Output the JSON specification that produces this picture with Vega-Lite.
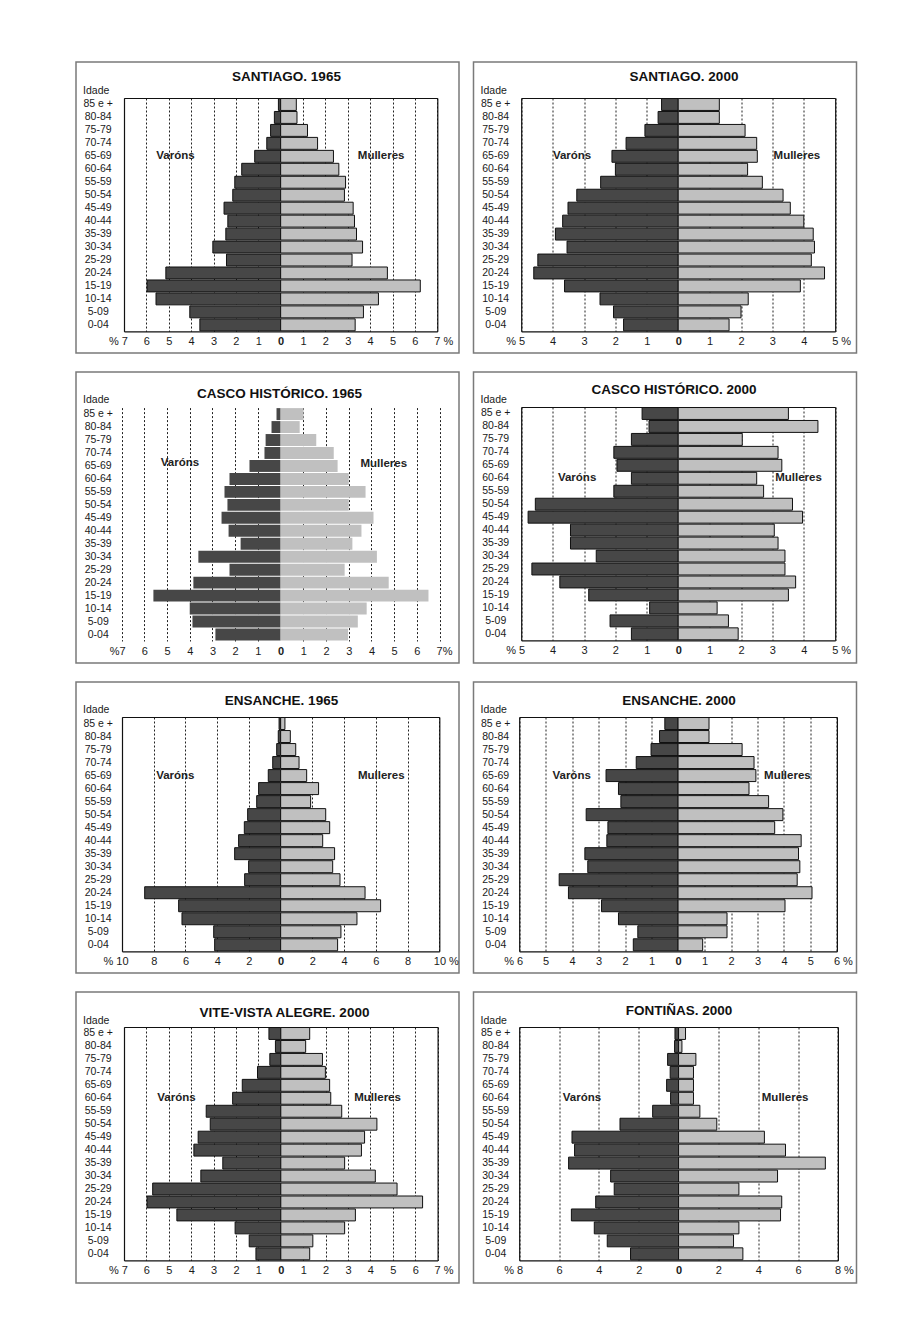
{
"$schema": "https://vega.github.io/schema/vega-lite/v6.json",
"background": "white",
"padding": {"left": 75, "top": 61, "right": 0, "bottom": 0},
"autosize": {"type": "pad"},
"datasets": {
"s65": [
{"idade":"85 e +","sexo":"Varóns","pct":-0.1},{"idade":"80-84","sexo":"Varóns","pct":-0.28},{"idade":"75-79","sexo":"Varóns","pct":-0.45},{"idade":"70-74","sexo":"Varóns","pct":-0.62},{"idade":"65-69","sexo":"Varóns","pct":-1.16},{"idade":"60-64","sexo":"Varóns","pct":-1.74},{"idade":"55-59","sexo":"Varóns","pct":-2.05},{"idade":"50-54","sexo":"Varóns","pct":-2.14},{"idade":"45-49","sexo":"Varóns","pct":-2.53},{"idade":"40-44","sexo":"Varóns","pct":-2.36},{"idade":"35-39","sexo":"Varóns","pct":-2.45},{"idade":"30-34","sexo":"Varóns","pct":-3.03},{"idade":"25-29","sexo":"Varóns","pct":-2.42},{"idade":"20-24","sexo":"Varóns","pct":-5.13},{"idade":"15-19","sexo":"Varóns","pct":-5.97},{"idade":"10-14","sexo":"Varóns","pct":-5.57},{"idade":"5-09","sexo":"Varóns","pct":-4.06},{"idade":"0-04","sexo":"Varóns","pct":-3.61},
{"idade":"85 e +","sexo":"Mulleres","pct":0.7},{"idade":"80-84","sexo":"Mulleres","pct":0.73},{"idade":"75-79","sexo":"Mulleres","pct":1.2},{"idade":"70-74","sexo":"Mulleres","pct":1.65},{"idade":"65-69","sexo":"Mulleres","pct":2.36},{"idade":"60-64","sexo":"Mulleres","pct":2.6},{"idade":"55-59","sexo":"Mulleres","pct":2.9},{"idade":"50-54","sexo":"Mulleres","pct":2.85},{"idade":"45-49","sexo":"Mulleres","pct":3.24},{"idade":"40-44","sexo":"Mulleres","pct":3.3},{"idade":"35-39","sexo":"Mulleres","pct":3.39},{"idade":"30-34","sexo":"Mulleres","pct":3.66},{"idade":"25-29","sexo":"Mulleres","pct":3.19},{"idade":"20-24","sexo":"Mulleres","pct":4.77},{"idade":"15-19","sexo":"Mulleres","pct":6.24},{"idade":"10-14","sexo":"Mulleres","pct":4.37},{"idade":"5-09","sexo":"Mulleres","pct":3.7},{"idade":"0-04","sexo":"Mulleres","pct":3.33}
],
"s00": [
{"idade":"85 e +","sexo":"Varóns","pct":-0.53},{"idade":"80-84","sexo":"Varóns","pct":-0.64},{"idade":"75-79","sexo":"Varóns","pct":-1.06},{"idade":"70-74","sexo":"Varóns","pct":-1.66},{"idade":"65-69","sexo":"Varóns","pct":-2.11},{"idade":"60-64","sexo":"Varóns","pct":-2.0},{"idade":"55-59","sexo":"Varóns","pct":-2.47},{"idade":"50-54","sexo":"Varóns","pct":-3.23},{"idade":"45-49","sexo":"Varóns","pct":-3.51},{"idade":"40-44","sexo":"Varóns","pct":-3.68},{"idade":"35-39","sexo":"Varóns","pct":-3.91},{"idade":"30-34","sexo":"Varóns","pct":-3.54},{"idade":"25-29","sexo":"Varóns","pct":-4.47},{"idade":"20-24","sexo":"Varóns","pct":-4.6},{"idade":"15-19","sexo":"Varóns","pct":-3.62},{"idade":"10-14","sexo":"Varóns","pct":-2.49},{"idade":"5-09","sexo":"Varóns","pct":-2.06},{"idade":"0-04","sexo":"Varóns","pct":-1.74},
{"idade":"85 e +","sexo":"Mulleres","pct":1.31},{"idade":"80-84","sexo":"Mulleres","pct":1.31},{"idade":"75-79","sexo":"Mulleres","pct":2.13},{"idade":"70-74","sexo":"Mulleres","pct":2.5},{"idade":"65-69","sexo":"Mulleres","pct":2.52},{"idade":"60-64","sexo":"Mulleres","pct":2.21},{"idade":"55-59","sexo":"Mulleres","pct":2.68},{"idade":"50-54","sexo":"Mulleres","pct":3.34},{"idade":"45-49","sexo":"Mulleres","pct":3.57},{"idade":"40-44","sexo":"Mulleres","pct":4.0},{"idade":"35-39","sexo":"Mulleres","pct":4.3},{"idade":"30-34","sexo":"Mulleres","pct":4.34},{"idade":"25-29","sexo":"Mulleres","pct":4.24},{"idade":"20-24","sexo":"Mulleres","pct":4.66},{"idade":"15-19","sexo":"Mulleres","pct":3.89},{"idade":"10-14","sexo":"Mulleres","pct":2.23},{"idade":"5-09","sexo":"Mulleres","pct":2.0},{"idade":"0-04","sexo":"Mulleres","pct":1.62}
],
"c65": [
{"idade":"85 e +","sexo":"Varóns","pct":-0.18},{"idade":"80-84","sexo":"Varóns","pct":-0.4},{"idade":"75-79","sexo":"Varóns","pct":-0.66},{"idade":"70-74","sexo":"Varóns","pct":-0.71},{"idade":"65-69","sexo":"Varóns","pct":-1.37},{"idade":"60-64","sexo":"Varóns","pct":-2.25},{"idade":"55-59","sexo":"Varóns","pct":-2.47},{"idade":"50-54","sexo":"Varóns","pct":-2.34},{"idade":"45-49","sexo":"Varóns","pct":-2.6},{"idade":"40-44","sexo":"Varóns","pct":-2.29},{"idade":"35-39","sexo":"Varóns","pct":-1.76},{"idade":"30-34","sexo":"Varóns","pct":-3.62},{"idade":"25-29","sexo":"Varóns","pct":-2.25},{"idade":"20-24","sexo":"Varóns","pct":-3.84},{"idade":"15-19","sexo":"Varóns","pct":-5.6},{"idade":"10-14","sexo":"Varóns","pct":-4.0},{"idade":"5-09","sexo":"Varóns","pct":-3.88},{"idade":"0-04","sexo":"Varóns","pct":-2.87},
{"idade":"85 e +","sexo":"Mulleres","pct":1.01},{"idade":"80-84","sexo":"Mulleres","pct":0.84},{"idade":"75-79","sexo":"Mulleres","pct":1.57},{"idade":"70-74","sexo":"Mulleres","pct":2.34},{"idade":"65-69","sexo":"Mulleres","pct":2.51},{"idade":"60-64","sexo":"Mulleres","pct":3.0},{"idade":"55-59","sexo":"Mulleres","pct":3.74},{"idade":"50-54","sexo":"Mulleres","pct":3.0},{"idade":"45-49","sexo":"Mulleres","pct":4.09},{"idade":"40-44","sexo":"Mulleres","pct":3.56},{"idade":"35-39","sexo":"Mulleres","pct":3.16},{"idade":"30-34","sexo":"Mulleres","pct":4.24},{"idade":"25-29","sexo":"Mulleres","pct":2.82},{"idade":"20-24","sexo":"Mulleres","pct":4.76},{"idade":"15-19","sexo":"Mulleres","pct":6.51},{"idade":"10-14","sexo":"Mulleres","pct":3.79},{"idade":"5-09","sexo":"Mulleres","pct":3.4},{"idade":"0-04","sexo":"Mulleres","pct":2.97}
],
"c00": [
{"idade":"85 e +","sexo":"Varóns","pct":-1.15},{"idade":"80-84","sexo":"Varóns","pct":-0.93},{"idade":"75-79","sexo":"Varóns","pct":-1.49},{"idade":"70-74","sexo":"Varóns","pct":-2.05},{"idade":"65-69","sexo":"Varóns","pct":-1.95},{"idade":"60-64","sexo":"Varóns","pct":-1.49},{"idade":"55-59","sexo":"Varóns","pct":-2.05},{"idade":"50-54","sexo":"Varóns","pct":-4.55},{"idade":"45-49","sexo":"Varóns","pct":-4.78},{"idade":"40-44","sexo":"Varóns","pct":-3.43},{"idade":"35-39","sexo":"Varóns","pct":-3.43},{"idade":"30-34","sexo":"Varóns","pct":-2.61},{"idade":"25-29","sexo":"Varóns","pct":-4.66},{"idade":"20-24","sexo":"Varóns","pct":-3.77},{"idade":"15-19","sexo":"Varóns","pct":-2.85},{"idade":"10-14","sexo":"Varóns","pct":-0.91},{"idade":"5-09","sexo":"Varóns","pct":-2.17},{"idade":"0-04","sexo":"Varóns","pct":-1.49},
{"idade":"85 e +","sexo":"Mulleres","pct":3.51},{"idade":"80-84","sexo":"Mulleres","pct":4.45},{"idade":"75-79","sexo":"Mulleres","pct":2.04},{"idade":"70-74","sexo":"Mulleres","pct":3.18},{"idade":"65-69","sexo":"Mulleres","pct":3.3},{"idade":"60-64","sexo":"Mulleres","pct":2.5},{"idade":"55-59","sexo":"Mulleres","pct":2.72},{"idade":"50-54","sexo":"Mulleres","pct":3.64},{"idade":"45-49","sexo":"Mulleres","pct":3.96},{"idade":"40-44","sexo":"Mulleres","pct":3.06},{"idade":"35-39","sexo":"Mulleres","pct":3.18},{"idade":"30-34","sexo":"Mulleres","pct":3.4},{"idade":"25-29","sexo":"Mulleres","pct":3.4},{"idade":"20-24","sexo":"Mulleres","pct":3.74},{"idade":"15-19","sexo":"Mulleres","pct":3.51},{"idade":"10-14","sexo":"Mulleres","pct":1.24},{"idade":"5-09","sexo":"Mulleres","pct":1.6},{"idade":"0-04","sexo":"Mulleres","pct":1.91}
],
"e65": [
{"idade":"85 e +","sexo":"Varóns","pct":-0.1},{"idade":"80-84","sexo":"Varóns","pct":-0.15},{"idade":"75-79","sexo":"Varóns","pct":-0.25},{"idade":"70-74","sexo":"Varóns","pct":-0.5},{"idade":"65-69","sexo":"Varóns","pct":-0.78},{"idade":"60-64","sexo":"Varóns","pct":-1.39},{"idade":"55-59","sexo":"Varóns","pct":-1.51},{"idade":"50-54","sexo":"Varóns","pct":-2.08},{"idade":"45-49","sexo":"Varóns","pct":-2.29},{"idade":"40-44","sexo":"Varóns","pct":-2.65},{"idade":"35-39","sexo":"Varóns","pct":-2.9},{"idade":"30-34","sexo":"Varóns","pct":-2.02},{"idade":"25-29","sexo":"Varóns","pct":-2.27},{"idade":"20-24","sexo":"Varóns","pct":-8.57},{"idade":"15-19","sexo":"Varóns","pct":-6.43},{"idade":"10-14","sexo":"Varóns","pct":-6.22},{"idade":"5-09","sexo":"Varóns","pct":-4.22},{"idade":"0-04","sexo":"Varóns","pct":-4.16},
{"idade":"85 e +","sexo":"Mulleres","pct":0.27},{"idade":"80-84","sexo":"Mulleres","pct":0.61},{"idade":"75-79","sexo":"Mulleres","pct":0.95},{"idade":"70-74","sexo":"Mulleres","pct":1.16},{"idade":"65-69","sexo":"Mulleres","pct":1.64},{"idade":"60-64","sexo":"Mulleres","pct":2.39},{"idade":"55-59","sexo":"Mulleres","pct":1.89},{"idade":"50-54","sexo":"Mulleres","pct":2.84},{"idade":"45-49","sexo":"Mulleres","pct":3.09},{"idade":"40-44","sexo":"Mulleres","pct":2.65},{"idade":"35-39","sexo":"Mulleres","pct":3.4},{"idade":"30-34","sexo":"Mulleres","pct":3.28},{"idade":"25-29","sexo":"Mulleres","pct":3.74},{"idade":"20-24","sexo":"Mulleres","pct":5.32},{"idade":"15-19","sexo":"Mulleres","pct":6.3},{"idade":"10-14","sexo":"Mulleres","pct":4.81},{"idade":"5-09","sexo":"Mulleres","pct":3.8},{"idade":"0-04","sexo":"Mulleres","pct":3.59}
],
"e00": [
{"idade":"85 e +","sexo":"Varóns","pct":-0.5},{"idade":"80-84","sexo":"Varóns","pct":-0.7},{"idade":"75-79","sexo":"Varóns","pct":-1.02},{"idade":"70-74","sexo":"Varóns","pct":-1.58},{"idade":"65-69","sexo":"Varóns","pct":-2.72},{"idade":"60-64","sexo":"Varóns","pct":-2.25},{"idade":"55-59","sexo":"Varóns","pct":-2.16},{"idade":"50-54","sexo":"Varóns","pct":-3.47},{"idade":"45-49","sexo":"Varóns","pct":-2.65},{"idade":"40-44","sexo":"Varóns","pct":-2.69},{"idade":"35-39","sexo":"Varóns","pct":-3.52},{"idade":"30-34","sexo":"Varóns","pct":-3.41},{"idade":"25-29","sexo":"Varóns","pct":-4.49},{"idade":"20-24","sexo":"Varóns","pct":-4.14},{"idade":"15-19","sexo":"Varóns","pct":-2.89},{"idade":"10-14","sexo":"Varóns","pct":-2.25},{"idade":"5-09","sexo":"Varóns","pct":-1.52},{"idade":"0-04","sexo":"Varóns","pct":-1.69},
{"idade":"85 e +","sexo":"Mulleres","pct":1.17},{"idade":"80-84","sexo":"Mulleres","pct":1.17},{"idade":"75-79","sexo":"Mulleres","pct":2.42},{"idade":"70-74","sexo":"Mulleres","pct":2.87},{"idade":"65-69","sexo":"Mulleres","pct":2.94},{"idade":"60-64","sexo":"Mulleres","pct":2.68},{"idade":"55-59","sexo":"Mulleres","pct":3.42},{"idade":"50-54","sexo":"Mulleres","pct":3.96},{"idade":"45-49","sexo":"Mulleres","pct":3.65},{"idade":"40-44","sexo":"Mulleres","pct":4.65},{"idade":"35-39","sexo":"Mulleres","pct":4.55},{"idade":"30-34","sexo":"Mulleres","pct":4.6},{"idade":"25-29","sexo":"Mulleres","pct":4.5},{"idade":"20-24","sexo":"Mulleres","pct":5.06},{"idade":"15-19","sexo":"Mulleres","pct":4.04},{"idade":"10-14","sexo":"Mulleres","pct":1.85},{"idade":"5-09","sexo":"Mulleres","pct":1.85},{"idade":"0-04","sexo":"Mulleres","pct":0.93}
],
"v00": [
{"idade":"85 e +","sexo":"Varóns","pct":-0.53},{"idade":"80-84","sexo":"Varóns","pct":-0.24},{"idade":"75-79","sexo":"Varóns","pct":-0.49},{"idade":"70-74","sexo":"Varóns","pct":-1.04},{"idade":"65-69","sexo":"Varóns","pct":-1.72},{"idade":"60-64","sexo":"Varóns","pct":-2.15},{"idade":"55-59","sexo":"Varóns","pct":-3.33},{"idade":"50-54","sexo":"Varóns","pct":-3.15},{"idade":"45-49","sexo":"Varóns","pct":-3.69},{"idade":"40-44","sexo":"Varóns","pct":-3.88},{"idade":"35-39","sexo":"Varóns","pct":-2.59},{"idade":"30-34","sexo":"Varóns","pct":-3.57},{"idade":"25-29","sexo":"Varóns","pct":-5.72},{"idade":"20-24","sexo":"Varóns","pct":-5.97},{"idade":"15-19","sexo":"Varóns","pct":-4.64},{"idade":"10-14","sexo":"Varóns","pct":-2.04},{"idade":"5-09","sexo":"Varóns","pct":-1.41},{"idade":"0-04","sexo":"Varóns","pct":-1.11},
{"idade":"85 e +","sexo":"Mulleres","pct":1.29},{"idade":"80-84","sexo":"Mulleres","pct":1.11},{"idade":"75-79","sexo":"Mulleres","pct":1.86},{"idade":"70-74","sexo":"Mulleres","pct":1.99},{"idade":"65-69","sexo":"Mulleres","pct":2.18},{"idade":"60-64","sexo":"Mulleres","pct":2.23},{"idade":"55-59","sexo":"Mulleres","pct":2.72},{"idade":"50-54","sexo":"Mulleres","pct":4.29},{"idade":"45-49","sexo":"Mulleres","pct":3.74},{"idade":"40-44","sexo":"Mulleres","pct":3.6},{"idade":"35-39","sexo":"Mulleres","pct":2.85},{"idade":"30-34","sexo":"Mulleres","pct":4.22},{"idade":"25-29","sexo":"Mulleres","pct":5.19},{"idade":"20-24","sexo":"Mulleres","pct":6.33},{"idade":"15-19","sexo":"Mulleres","pct":3.33},{"idade":"10-14","sexo":"Mulleres","pct":2.85},{"idade":"5-09","sexo":"Mulleres","pct":1.43},{"idade":"0-04","sexo":"Mulleres","pct":1.29}
],
"f00": [
{"idade":"85 e +","sexo":"Varóns","pct":-0.18},{"idade":"80-84","sexo":"Varóns","pct":-0.2},{"idade":"75-79","sexo":"Varóns","pct":-0.55},{"idade":"70-74","sexo":"Varóns","pct":-0.42},{"idade":"65-69","sexo":"Varóns","pct":-0.6},{"idade":"60-64","sexo":"Varóns","pct":-0.4},{"idade":"55-59","sexo":"Varóns","pct":-1.3},{"idade":"50-54","sexo":"Varóns","pct":-2.94},{"idade":"45-49","sexo":"Varóns","pct":-5.35},{"idade":"40-44","sexo":"Varóns","pct":-5.22},{"idade":"35-39","sexo":"Varóns","pct":-5.52},{"idade":"30-34","sexo":"Varóns","pct":-3.41},{"idade":"25-29","sexo":"Varóns","pct":-3.23},{"idade":"20-24","sexo":"Varóns","pct":-4.16},{"idade":"15-19","sexo":"Varóns","pct":-5.38},{"idade":"10-14","sexo":"Varóns","pct":-4.23},{"idade":"5-09","sexo":"Varóns","pct":-3.58},{"idade":"0-04","sexo":"Varóns","pct":-2.41},
{"idade":"85 e +","sexo":"Mulleres","pct":0.35},{"idade":"80-84","sexo":"Mulleres","pct":0.17},{"idade":"75-79","sexo":"Mulleres","pct":0.87},{"idade":"70-74","sexo":"Mulleres","pct":0.75},{"idade":"65-69","sexo":"Mulleres","pct":0.75},{"idade":"60-64","sexo":"Mulleres","pct":0.75},{"idade":"55-59","sexo":"Mulleres","pct":1.07},{"idade":"50-54","sexo":"Mulleres","pct":1.92},{"idade":"45-49","sexo":"Mulleres","pct":4.31},{"idade":"40-44","sexo":"Mulleres","pct":5.37},{"idade":"35-39","sexo":"Mulleres","pct":7.37},{"idade":"30-34","sexo":"Mulleres","pct":4.97},{"idade":"25-29","sexo":"Mulleres","pct":3.03},{"idade":"20-24","sexo":"Mulleres","pct":5.18},{"idade":"15-19","sexo":"Mulleres","pct":5.12},{"idade":"10-14","sexo":"Mulleres","pct":3.03},{"idade":"5-09","sexo":"Mulleres","pct":2.76},{"idade":"0-04","sexo":"Mulleres","pct":3.23}
]
},
"columns": 2,
"spacing": {"row": 17, "column": 12.5},
"concat": [
{
"title": {"text": "SANTIAGO. 1965", "offset": -21.5, "dx": 19},
"width": 383, "height": 291,
"layer": [
{"data": {"name": "s65"}, "mark": {"type": "bar", "stroke": "#111", "strokeWidth": 1},
"encoding": {
"y": {"field": "idade", "type": "nominal", "sort": null, "scale": {"domain": ["85 e +","80-84","75-79","70-74","65-69","60-64","55-59","50-54","45-49","40-44","35-39","30-34","25-29","20-24","15-19","10-14","5-09","0-04"], "range": [36, 269.3], "paddingInner": 0.08, "paddingOuter": 0.04},
 "axis": {"orient": "left", "offset": -48, "domain": true, "labelPadding": 26.3, "title": "Idade", "titleX": -41.4, "titleY": 31.5}},
"x": {"field": "pct", "type": "quantitative", "scale": {"domain": [-7, 7], "range": [48, 361.3], "nice": false, "zero": false},
 "axis": {"orient": "bottom", "offset": -21.7, "grid": false, "title": null, "values": [-7,-6,-5,-4,-3,-2,-1,0,1,2,3,4,5,6,7],
  "labelExpr": "datum.value <= -7 ? '% ' + abs(datum.value) : (datum.value >= 7 ? abs(datum.value) + ' %' : '' + abs(datum.value))",
  "labelAlign": {"condition": [{"test": "datum.value <= -7", "value": "right"}, {"test": "datum.value >= 7", "value": "left"}], "value": "center"},
  "labelOffset": {"condition": [{"test": "datum.value <= -7", "value": 3.5}, {"test": "datum.value >= 7", "value": -3.5}], "value": 0},
  "labelFontWeight": {"condition": {"test": "datum.value == 0", "value": "bold"}, "value": "normal"}}},
"color": {"field": "sexo", "type": "nominal", "scale": {"domain": ["Varóns","Mulleres"], "range": ["#474747","#c0c0c0"]}, "legend": null}}},
{"data": {"values": [{}]}, "mark": {"type": "text", "fontWeight": "bold", "fontSize": 11.5, "color": "#222"},
"encoding": {"x": {"datum": -4.7, "axis": {"orient": "top", "offset": -36, "labels": false, "grid": true, "title": null, "values": [-7,-6,-5,-4,-3,-2,-1,0,1,2,3,4,5,6,7], "gridOpacity": {"condition": {"test": "datum.value == 0", "value": 0}, "value": 1}}},
"y": {"datum": "65-69", "axis": {"orient": "right", "offset": -21.7, "labels": false, "grid": false, "title": null}},
"text": {"value": "Varóns"}}},
{"data": {"values": [{}]}, "mark": {"type": "text", "fontWeight": "bold", "fontSize": 11.5, "color": "#222"},
"encoding": {"x": {"datum": 4.49, "axis": null}, "y": {"datum": "65-69", "axis": null}, "text": {"value": "Mulleres"}}}
],
"resolve": {"axis": {"x": "independent", "y": "independent"}}
},
{
"title": {"text": "SANTIAGO. 2000", "offset": -21.5, "dx": 19},
"width": 383, "height": 291,
"layer": [
{"data": {"name": "s00"}, "mark": {"type": "bar", "stroke": "#111", "strokeWidth": 1},
"encoding": {
"y": {"field": "idade", "type": "nominal", "sort": null, "scale": {"domain": ["85 e +","80-84","75-79","70-74","65-69","60-64","55-59","50-54","45-49","40-44","35-39","30-34","25-29","20-24","15-19","10-14","5-09","0-04"], "range": [36, 269.3], "paddingInner": 0.08, "paddingOuter": 0.04},
 "axis": {"orient": "left", "offset": -47.7, "domain": true, "labelPadding": 26, "title": "Idade", "titleX": -41.1, "titleY": 31.5}},
"x": {"field": "pct", "type": "quantitative", "scale": {"domain": [-5, 5], "range": [47.7, 361.7], "nice": false, "zero": false},
 "axis": {"orient": "bottom", "offset": -21.7, "grid": false, "title": null, "values": [-5,-4,-3,-2,-1,0,1,2,3,4,5],
  "labelExpr": "datum.value <= -5 ? '% ' + abs(datum.value) : (datum.value >= 5 ? abs(datum.value) + ' %' : '' + abs(datum.value))",
  "labelAlign": {"condition": [{"test": "datum.value <= -5", "value": "right"}, {"test": "datum.value >= 5", "value": "left"}], "value": "center"},
  "labelOffset": {"condition": [{"test": "datum.value <= -5", "value": 3.5}, {"test": "datum.value >= 5", "value": -3.5}], "value": 0},
  "labelFontWeight": {"condition": {"test": "datum.value == 0", "value": "bold"}, "value": "normal"}}},
"color": {"field": "sexo", "type": "nominal", "scale": {"domain": ["Varóns","Mulleres"], "range": ["#474747","#c0c0c0"]}, "legend": null}}},
{"data": {"values": [{}]}, "mark": {"type": "text", "fontWeight": "bold", "fontSize": 11.5, "color": "#222"},
"encoding": {"x": {"datum": -3.38, "axis": {"orient": "top", "offset": -36, "labels": false, "grid": true, "title": null, "values": [-5,-4,-3,-2,-1,0,1,2,3,4,5], "gridOpacity": {"condition": {"test": "datum.value == 0", "value": 0}, "value": 1}}},
"y": {"datum": "65-69", "axis": {"orient": "right", "offset": -21.3, "labels": false, "grid": false, "title": null}},
"text": {"value": "Varóns"}}},
{"data": {"values": [{}]}, "mark": {"type": "text", "fontWeight": "bold", "fontSize": 11.5, "color": "#222"},
"encoding": {"x": {"datum": 3.78, "axis": null}, "y": {"datum": "65-69", "axis": null}, "text": {"value": "Mulleres"}}}
],
"resolve": {"axis": {"x": "independent", "y": "independent"}}
},
{
"title": {"text": "CASCO HISTÓRICO. 1965", "offset": -28.8, "dx": 12},
"width": 383, "height": 291,
"layer": [
{"data": {"name": "c65"}, "mark": {"type": "bar"},
"encoding": {
"y": {"field": "idade", "type": "nominal", "sort": null, "scale": {"domain": ["85 e +","80-84","75-79","70-74","65-69","60-64","55-59","50-54","45-49","40-44","35-39","30-34","25-29","20-24","15-19","10-14","5-09","0-04"], "range": [35.6, 269], "paddingInner": 0.08, "paddingOuter": 0.04},
 "axis": {"orient": "left", "offset": -45.6, "domain": false, "labelPadding": 23.9, "title": "Idade", "titleX": -39, "titleY": 30.6}},
"x": {"field": "pct", "type": "quantitative", "scale": {"domain": [-7, 7], "range": [45.6, 363.6], "nice": false, "zero": false},
 "axis": {"orient": "bottom", "offset": -22, "domain": false, "grid": false, "title": null, "values": [-7,-6,-5,-4,-3,-2,-1,0,1,2,3,4,5,6,7],
  "labelExpr": "datum.value <= -7 ? '%' + abs(datum.value) : (datum.value >= 7 ? abs(datum.value) + '%' : '' + abs(datum.value))",
  "labelAlign": {"condition": [{"test": "datum.value <= -7", "value": "right"}, {"test": "datum.value >= 7", "value": "left"}], "value": "center"},
  "labelOffset": {"condition": [{"test": "datum.value <= -7", "value": 3.5}, {"test": "datum.value >= 7", "value": -3.5}], "value": 0},
  "labelFontWeight": {"condition": {"test": "datum.value == 0", "value": "bold"}, "value": "normal"}}},
"color": {"field": "sexo", "type": "nominal", "scale": {"domain": ["Varóns","Mulleres"], "range": ["#474747","#c0c0c0"]}, "legend": null}}},
{"data": {"values": [{}]}, "mark": {"type": "text", "fontWeight": "bold", "fontSize": 11.5, "color": "#222", "dy": -3},
"encoding": {"x": {"datum": -4.43, "axis": {"orient": "top", "offset": -35.6, "domain": false, "labels": false, "grid": true, "title": null, "values": [-7,-6,-5,-4,-3,-2,-1,0,1,2,3,4,5,6,7], "gridOpacity": {"condition": {"test": "datum.value == 0", "value": 0}, "value": 1}}},
"y": {"datum": "65-69", "axis": null}, "text": {"value": "Varóns"}}},
{"data": {"values": [{}]}, "mark": {"type": "text", "fontWeight": "bold", "fontSize": 11.5, "color": "#222", "dy": -2},
"encoding": {"x": {"datum": 4.54, "axis": null}, "y": {"datum": "65-69", "axis": null}, "text": {"value": "Mulleres"}}}
],
"resolve": {"axis": {"x": "independent", "y": "independent"}}
},
{
"title": {"text": "CASCO HISTÓRICO. 2000", "offset": -24.3, "dx": 9},
"width": 383, "height": 291,
"layer": [
{"data": {"name": "c00"}, "mark": {"type": "bar", "stroke": "#111", "strokeWidth": 1},
"encoding": {
"y": {"field": "idade", "type": "nominal", "sort": null, "scale": {"domain": ["85 e +","80-84","75-79","70-74","65-69","60-64","55-59","50-54","45-49","40-44","35-39","30-34","25-29","20-24","15-19","10-14","5-09","0-04"], "range": [35, 268.3], "paddingInner": 0.08, "paddingOuter": 0.04},
 "axis": {"orient": "left", "offset": -47.7, "domain": true, "labelPadding": 26, "title": "Idade", "titleX": -41.1, "titleY": 30.6}},
"x": {"field": "pct", "type": "quantitative", "scale": {"domain": [-5, 5], "range": [47.7, 361.7], "nice": false, "zero": false},
 "axis": {"orient": "bottom", "offset": -22.7, "grid": false, "title": null, "values": [-5,-4,-3,-2,-1,0,1,2,3,4,5],
  "labelExpr": "datum.value <= -5 ? '% ' + abs(datum.value) : (datum.value >= 5 ? abs(datum.value) + ' %' : '' + abs(datum.value))",
  "labelAlign": {"condition": [{"test": "datum.value <= -5", "value": "right"}, {"test": "datum.value >= 5", "value": "left"}], "value": "center"},
  "labelOffset": {"condition": [{"test": "datum.value <= -5", "value": 3.5}, {"test": "datum.value >= 5", "value": -3.5}], "value": 0},
  "labelFontWeight": {"condition": {"test": "datum.value == 0", "value": "bold"}, "value": "normal"}}},
"color": {"field": "sexo", "type": "nominal", "scale": {"domain": ["Varóns","Mulleres"], "range": ["#474747","#c0c0c0"]}, "legend": null}}},
{"data": {"values": [{}]}, "mark": {"type": "text", "fontWeight": "bold", "fontSize": 11.5, "color": "#222"},
"encoding": {"x": {"datum": -3.22, "axis": {"orient": "top", "offset": -35, "labels": false, "grid": true, "title": null, "values": [-5,-4,-3,-2,-1,0,1,2,3,4,5], "gridOpacity": {"condition": {"test": "datum.value == 0", "value": 0}, "value": 1}}},
"y": {"datum": "60-64", "axis": {"orient": "right", "offset": -21.3, "labels": false, "grid": false, "title": null}},
"text": {"value": "Varóns"}}},
{"data": {"values": [{}]}, "mark": {"type": "text", "fontWeight": "bold", "fontSize": 11.5, "color": "#222"},
"encoding": {"x": {"datum": 3.83, "axis": null}, "y": {"datum": "60-64", "axis": null}, "text": {"value": "Mulleres"}}}
],
"resolve": {"axis": {"x": "independent", "y": "independent"}}
},
{
"title": {"text": "ENSANCHE. 1965", "offset": -25.3, "dx": 14},
"width": 383, "height": 291,
"layer": [
{"data": {"name": "e65"}, "mark": {"type": "bar", "stroke": "#111", "strokeWidth": 1},
"encoding": {
"y": {"field": "idade", "type": "nominal", "sort": null, "scale": {"domain": ["85 e +","80-84","75-79","70-74","65-69","60-64","55-59","50-54","45-49","40-44","35-39","30-34","25-29","20-24","15-19","10-14","5-09","0-04"], "range": [35, 269.3], "paddingInner": 0.08, "paddingOuter": 0.04},
 "axis": {"orient": "left", "offset": -46, "domain": true, "labelPadding": 24.3, "title": "Idade", "titleX": -39.4, "titleY": 30}},
"x": {"field": "pct", "type": "quantitative", "scale": {"domain": [-10, 10], "range": [46, 363.3], "nice": false, "zero": false},
 "axis": {"orient": "bottom", "offset": -21.7, "grid": false, "title": null, "values": [-10,-8,-6,-4,-2,0,2,4,6,8,10],
  "labelExpr": "datum.value <= -10 ? '% ' + abs(datum.value) : (datum.value >= 10 ? abs(datum.value) + ' %' : '' + abs(datum.value))",
  "labelAlign": {"condition": [{"test": "datum.value <= -10", "value": "right"}, {"test": "datum.value >= 10", "value": "left"}], "value": "center"},
  "labelOffset": {"condition": [{"test": "datum.value <= -10", "value": 6}, {"test": "datum.value >= 10", "value": -6}], "value": 0},
  "labelFontWeight": {"condition": {"test": "datum.value == 0", "value": "bold"}, "value": "normal"}}},
"color": {"field": "sexo", "type": "nominal", "scale": {"domain": ["Varóns","Mulleres"], "range": ["#474747","#c0c0c0"]}, "legend": null}}},
{"data": {"values": [{}]}, "mark": {"type": "text", "fontWeight": "bold", "fontSize": 11.5, "color": "#222"},
"encoding": {"x": {"datum": -6.64, "axis": {"orient": "top", "offset": -35, "labels": false, "grid": true, "title": null, "values": [-10,-8,-6,-4,-2,0,2,4,6,8,10], "gridOpacity": {"condition": {"test": "datum.value == 0", "value": 0}, "value": 1}}},
"y": {"datum": "65-69", "axis": {"orient": "right", "offset": -19.7, "labels": false, "grid": false, "title": null}},
"text": {"value": "Varóns"}}},
{"data": {"values": [{}]}, "mark": {"type": "text", "fontWeight": "bold", "fontSize": 11.5, "color": "#222"},
"encoding": {"x": {"datum": 6.34, "axis": null}, "y": {"datum": "65-69", "axis": null}, "text": {"value": "Mulleres"}}}
],
"resolve": {"axis": {"x": "independent", "y": "independent"}}
},
{
"title": {"text": "ENSANCHE. 2000", "offset": -25.3, "dx": 14},
"width": 383, "height": 291,
"layer": [
{"data": {"name": "e00"}, "mark": {"type": "bar", "stroke": "#111", "strokeWidth": 1},
"encoding": {
"y": {"field": "idade", "type": "nominal", "sort": null, "scale": {"domain": ["85 e +","80-84","75-79","70-74","65-69","60-64","55-59","50-54","45-49","40-44","35-39","30-34","25-29","20-24","15-19","10-14","5-09","0-04"], "range": [35, 269.3], "paddingInner": 0.08, "paddingOuter": 0.04},
 "axis": {"orient": "left", "offset": -45.7, "domain": true, "labelPadding": 24, "title": "Idade", "titleX": -39.1, "titleY": 30}},
"x": {"field": "pct", "type": "quantitative", "scale": {"domain": [-6, 6], "range": [45.7, 363.4], "nice": false, "zero": false},
 "axis": {"orient": "bottom", "offset": -21.7, "grid": false, "title": null, "values": [-6,-5,-4,-3,-2,-1,0,1,2,3,4,5,6],
  "labelExpr": "datum.value <= -6 ? '% ' + abs(datum.value) : (datum.value >= 6 ? abs(datum.value) + ' %' : '' + abs(datum.value))",
  "labelAlign": {"condition": [{"test": "datum.value <= -6", "value": "right"}, {"test": "datum.value >= 6", "value": "left"}], "value": "center"},
  "labelOffset": {"condition": [{"test": "datum.value <= -6", "value": 3.5}, {"test": "datum.value >= 6", "value": -3.5}], "value": 0},
  "labelFontWeight": {"condition": {"test": "datum.value == 0", "value": "bold"}, "value": "normal"}}},
"color": {"field": "sexo", "type": "nominal", "scale": {"domain": ["Varóns","Mulleres"], "range": ["#474747","#c0c0c0"]}, "legend": null}}},
{"data": {"values": [{}]}, "mark": {"type": "text", "fontWeight": "bold", "fontSize": 11.5, "color": "#222"},
"encoding": {"x": {"datum": -4.02, "axis": {"orient": "top", "offset": -35, "labels": false, "grid": true, "title": null, "values": [-6,-5,-4,-3,-2,-1,0,1,2,3,4,5,6], "gridOpacity": {"condition": {"test": "datum.value == 0", "value": 0}, "value": 1}}},
"y": {"datum": "65-69", "axis": {"orient": "right", "offset": -19.6, "labels": false, "grid": false, "title": null}},
"text": {"value": "Varóns"}}},
{"data": {"values": [{}]}, "mark": {"type": "text", "fontWeight": "bold", "fontSize": 11.5, "color": "#222"},
"encoding": {"x": {"datum": 4.13, "axis": null}, "y": {"datum": "65-69", "axis": null}, "text": {"value": "Mulleres"}}}
],
"resolve": {"axis": {"x": "independent", "y": "independent"}}
},
{
"title": {"text": "VITE-VISTA ALEGRE. 2000", "offset": -27.6, "dx": 17},
"width": 383, "height": 291,
"layer": [
{"data": {"name": "v00"}, "mark": {"type": "bar", "stroke": "#111", "strokeWidth": 1},
"encoding": {
"y": {"field": "idade", "type": "nominal", "sort": null, "scale": {"domain": ["85 e +","80-84","75-79","70-74","65-69","60-64","55-59","50-54","45-49","40-44","35-39","30-34","25-29","20-24","15-19","10-14","5-09","0-04"], "range": [35, 268.3], "paddingInner": 0.08, "paddingOuter": 0.04},
 "axis": {"orient": "left", "offset": -48, "domain": true, "labelPadding": 26.3, "title": "Idade", "titleX": -41.4, "titleY": 31.5}},
"x": {"field": "pct", "type": "quantitative", "scale": {"domain": [-7, 7], "range": [48, 361.6], "nice": false, "zero": false},
 "axis": {"orient": "bottom", "offset": -22.7, "grid": false, "title": null, "values": [-7,-6,-5,-4,-3,-2,-1,0,1,2,3,4,5,6,7],
  "labelExpr": "datum.value <= -7 ? '% ' + abs(datum.value) : (datum.value >= 7 ? abs(datum.value) + ' %' : '' + abs(datum.value))",
  "labelAlign": {"condition": [{"test": "datum.value <= -7", "value": "right"}, {"test": "datum.value >= 7", "value": "left"}], "value": "center"},
  "labelOffset": {"condition": [{"test": "datum.value <= -7", "value": 3.5}, {"test": "datum.value >= 7", "value": -3.5}], "value": 0},
  "labelFontWeight": {"condition": {"test": "datum.value == 0", "value": "bold"}, "value": "normal"}}},
"color": {"field": "sexo", "type": "nominal", "scale": {"domain": ["Varóns","Mulleres"], "range": ["#474747","#c0c0c0"]}, "legend": null}}},
{"data": {"values": [{}]}, "mark": {"type": "text", "fontWeight": "bold", "fontSize": 11.5, "color": "#222"},
"encoding": {"x": {"datum": -4.66, "axis": {"orient": "top", "offset": -35, "labels": false, "grid": true, "title": null, "values": [-7,-6,-5,-4,-3,-2,-1,0,1,2,3,4,5,6,7], "gridOpacity": {"condition": {"test": "datum.value == 0", "value": 0}, "value": 1}}},
"y": {"datum": "60-64", "axis": {"orient": "right", "offset": -21.4, "labels": false, "grid": false, "title": null}},
"text": {"value": "Varóns"}}},
{"data": {"values": [{}]}, "mark": {"type": "text", "fontWeight": "bold", "fontSize": 11.5, "color": "#222"},
"encoding": {"x": {"datum": 4.32, "axis": null}, "y": {"datum": "60-64", "axis": null}, "text": {"value": "Mulleres"}}}
],
"resolve": {"axis": {"x": "independent", "y": "independent"}}
},
{
"title": {"text": "FONTIÑAS. 2000", "offset": -25.3, "dx": 14},
"width": 383, "height": 291,
"layer": [
{"data": {"name": "f00"}, "mark": {"type": "bar", "stroke": "#111", "strokeWidth": 1},
"encoding": {
"y": {"field": "idade", "type": "nominal", "sort": null, "scale": {"domain": ["85 e +","80-84","75-79","70-74","65-69","60-64","55-59","50-54","45-49","40-44","35-39","30-34","25-29","20-24","15-19","10-14","5-09","0-04"], "range": [35, 268.3], "paddingInner": 0.08, "paddingOuter": 0.04},
 "axis": {"orient": "left", "offset": -45.7, "domain": true, "labelPadding": 24, "title": "Idade", "titleX": -39.1, "titleY": 31.5}},
"x": {"field": "pct", "type": "quantitative", "scale": {"domain": [-8, 8], "range": [45.7, 364.4], "nice": false, "zero": false},
 "axis": {"orient": "bottom", "offset": -22.7, "grid": false, "title": null, "values": [-8,-6,-4,-2,0,2,4,6,8],
  "labelExpr": "datum.value <= -8 ? '% ' + abs(datum.value) : (datum.value >= 8 ? abs(datum.value) + ' %' : '' + abs(datum.value))",
  "labelAlign": {"condition": [{"test": "datum.value <= -8", "value": "right"}, {"test": "datum.value >= 8", "value": "left"}], "value": "center"},
  "labelOffset": {"condition": [{"test": "datum.value <= -8", "value": 3.5}, {"test": "datum.value >= 8", "value": -3.5}], "value": 0},
  "labelFontWeight": {"condition": {"test": "datum.value == 0", "value": "bold"}, "value": "normal"}}},
"color": {"field": "sexo", "type": "nominal", "scale": {"domain": ["Varóns","Mulleres"], "range": ["#474747","#c0c0c0"]}, "legend": null}}},
{"data": {"values": [{}]}, "mark": {"type": "text", "fontWeight": "bold", "fontSize": 11.5, "color": "#222"},
"encoding": {"x": {"datum": -4.85, "axis": {"orient": "top", "offset": -35, "labels": false, "grid": true, "title": null, "values": [-8,-6,-4,-2,0,2,4,6,8], "gridOpacity": {"condition": {"test": "datum.value == 0", "value": 0}, "value": 1}}},
"y": {"datum": "60-64", "axis": {"orient": "right", "offset": -18.6, "labels": false, "grid": false, "title": null}},
"text": {"value": "Varóns"}}},
{"data": {"values": [{}]}, "mark": {"type": "text", "fontWeight": "bold", "fontSize": 11.5, "color": "#222"},
"encoding": {"x": {"datum": 5.35, "axis": null}, "y": {"datum": "60-64", "axis": null}, "text": {"value": "Mulleres"}}}
],
"resolve": {"axis": {"x": "independent", "y": "independent"}}
}
],
"config": {
"font": "Liberation Sans",
"view": {"stroke": "#7a7a7a", "strokeWidth": 1.5},
"title": {"font": "Liberation Sans", "fontSize": 13.5, "fontWeight": "bold", "color": "#111", "frame": "group", "anchor": "middle", "baseline": "alphabetic"},
"text": {"font": "Liberation Sans"},
"axis": {"ticks": false, "tickSize": 0, "domainColor": "#111", "domainWidth": 1.2, "labelColor": "#1a1a1a", "labelFont": "Liberation Sans", "titleFont": "Liberation Sans", "titleColor": "#1a1a1a", "gridColor": "#222", "gridDash": [2, 2], "gridWidth": 1, "labelFlush": false, "labelOverlap": false, "labelBound": false},
"axisLeft": {"labelAlign": "center", "labelFontSize": 10.5, "titleAngle": 0, "titleAlign": "left", "titleBaseline": "alphabetic", "titleFontSize": 10.5, "titleFontWeight": "normal", "grid": false},
"axisBottom": {"labelFontSize": 11, "labelPadding": 4}
}
}
